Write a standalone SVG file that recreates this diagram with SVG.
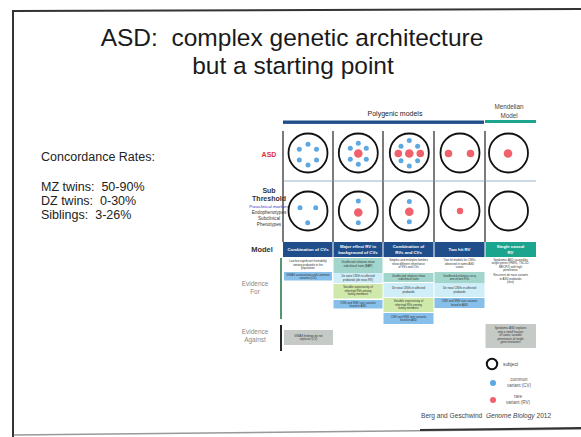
<svg xmlns="http://www.w3.org/2000/svg" width="581" height="437" viewBox="0 0 581 437">
<defs>
<style>
text{font-family:"Liberation Sans",Arial,sans-serif;white-space:pre}
.title{font-size:24.5px;fill:#1a1a1a;text-anchor:middle}
.conc{font-size:12.5px;fill:#222}
.subj{fill:none;stroke:#111;stroke-width:1.8}
.cv{fill:#5ea8e2}
.rv{fill:#f0616b}
.vline{stroke:#333;stroke-width:1.3}
.hdr{fill:#1f4e8a}
.hdrm{fill:#1ca58e}
.ht{font-size:4.3px;fill:#fff;font-weight:bold;text-anchor:middle}
.bt{font-size:2.9px;fill:#333;text-anchor:middle}
.lbl{font-size:6.5px;fill:#888;text-anchor:middle}
.blue{fill:#86bfea}
.teal{fill:#a2d6cd}
.cyan{fill:#cfeef8}
.green{fill:#cfe9aa}
.gray{fill:#c6cac7}
</style>
</defs>
<rect width="581" height="437" fill="#fff"/>
<g id="frame" fill="none">
<path d="M13,437 L13,11 L581,9" stroke="#333" stroke-width="2"/>
<path d="M13,435 L300,432 L581,429" stroke="#555" stroke-width="1.6" opacity="0.6"/>
<path d="M420,430 L581,428" stroke="#333" stroke-width="2"/>
</g>
<g id="title">
<text class="title" x="292" y="46" xml:space="preserve">ASD:  complex genetic architecture</text>
<text class="title" x="293" y="74">but a starting point</text>
</g>
<g id="concordance">
<text class="conc" x="41" y="161" font-size="13px">Concordance Rates:</text>
<text class="conc" x="41" y="191" xml:space="preserve">MZ twins:  50-90%</text>
<text class="conc" x="41" y="205" xml:space="preserve">DZ twins:  0-30%</text>
<text class="conc" x="41" y="219" xml:space="preserve">Siblings:  3-26%</text>
</g>
<g id="model-headers">
<text x="395" y="116" font-size="7" fill="#222" text-anchor="middle">Polygenic models</text>
<text x="509" y="109" font-size="6.3" fill="#444" text-anchor="middle">Mendelian</text>
<text x="509" y="118" font-size="6.3" fill="#444" text-anchor="middle">Model</text>
<rect x="283" y="120.5" width="201" height="3.4" fill="#1f4e8a"/>
<rect x="485" y="120" width="51" height="3" fill="#1ca58e"/>
</g>
<g id="grid">
<line class="vline" x1="283" y1="131" x2="283" y2="242"/>
<line class="vline" x1="333" y1="131" x2="333" y2="242"/>
<line class="vline" x1="383" y1="131" x2="383" y2="242"/>
<line class="vline" x1="434" y1="131" x2="434" y2="242"/>
<line class="vline" x1="485" y1="131" x2="485" y2="242"/>
<line x1="283" y1="181" x2="536" y2="181" stroke="#7d9db6" stroke-width="0.8"/>
</g>
<g id="row-labels">
<text x="269" y="157" font-size="7" font-weight="bold" fill="#d9303a" text-anchor="middle">ASD</text>
<text x="269" y="193" font-size="7" font-weight="bold" fill="#333" text-anchor="middle">Sub</text>
<text x="269" y="201" font-size="7" font-weight="bold" fill="#333" text-anchor="middle">Threshold</text>
<text x="269" y="208" font-size="4.4" fill="#3a3ac8" text-anchor="middle">Paraclinical markers</text>
<text x="269" y="214" font-size="4.6" fill="#333" text-anchor="middle">Endophenotypes</text>
<text x="269" y="220" font-size="4.6" fill="#333" text-anchor="middle">Subclinical</text>
<text x="269" y="226" font-size="4.6" fill="#333" text-anchor="middle">Phenotypes</text>
<text x="262" y="252" font-size="7.5" font-weight="bold" fill="#333" text-anchor="middle">Model</text>
</g>
<g id="col1-circles">
<circle class="subj" cx="308" cy="153" r="19.5"/>
<circle class="cv" cx="308" cy="144.3" r="2.5"/>
<circle class="cv" cx="299.3" cy="149.3" r="2.5"/>
<circle class="cv" cx="316.5" cy="149.3" r="2.5"/>
<circle class="cv" cx="299.3" cy="160" r="2.5"/>
<circle class="cv" cx="316.5" cy="160" r="2.5"/>
<circle class="cv" cx="308" cy="165" r="2.5"/>
<circle class="subj" cx="308" cy="211" r="19.5"/>
<circle class="cv" cx="300" cy="207.7" r="2.5"/>
<circle class="cv" cx="315.7" cy="207.7" r="2.5"/>
<circle class="cv" cx="307.7" cy="222.7" r="2.5"/>
</g>
<g id="col2-circles">
<circle class="subj" cx="358.3" cy="153" r="19.5"/>
<circle class="rv" cx="358.3" cy="153.5" r="4.3"/>
<circle class="cv" cx="358.3" cy="143.3" r="2.5"/>
<circle class="cv" cx="350.3" cy="148.3" r="2.5"/>
<circle class="cv" cx="366.3" cy="148.3" r="2.5"/>
<circle class="cv" cx="350.3" cy="159.3" r="2.5"/>
<circle class="cv" cx="366.3" cy="159.3" r="2.5"/>
<circle class="cv" cx="358.3" cy="164.3" r="2.5"/>
<circle class="subj" cx="358.3" cy="211" r="19.5"/>
<circle class="cv" cx="358.3" cy="201" r="2.5"/>
<circle class="rv" cx="358.3" cy="212.5" r="4.3"/>
<circle class="cv" cx="358.3" cy="222.7" r="2.5"/>
</g>
<g id="col3-circles">
<circle class="subj" cx="409.3" cy="153" r="19.5"/>
<circle class="rv" cx="398.3" cy="153.5" r="3.8"/>
<circle class="rv" cx="409.3" cy="153.5" r="4.3"/>
<circle class="rv" cx="420.3" cy="153.5" r="3.8"/>
<circle class="cv" cx="409.3" cy="140.5" r="2.5"/>
<circle class="cv" cx="401" cy="146.3" r="2.5"/>
<circle class="cv" cx="417.6" cy="146.3" r="2.5"/>
<circle class="cv" cx="401" cy="160.7" r="2.5"/>
<circle class="cv" cx="417.6" cy="160.7" r="2.5"/>
<circle class="cv" cx="409.3" cy="166" r="2.5"/>
<circle class="subj" cx="409.3" cy="211" r="19.5"/>
<circle class="cv" cx="409.3" cy="201.5" r="2.5"/>
<circle class="rv" cx="409.3" cy="211.7" r="4.3"/>
<circle class="cv" cx="409.3" cy="221.7" r="2.5"/>
</g>
<g id="col4-circles">
<circle class="subj" cx="460" cy="153" r="19.5"/>
<circle class="rv" cx="448.5" cy="153.5" r="3.8"/>
<circle class="rv" cx="470.5" cy="153.5" r="3.8"/>
<circle class="subj" cx="460" cy="211" r="19.5"/>
<circle class="rv" cx="460" cy="211" r="3.2"/>
</g>
<g id="col5-circles">
<circle class="subj" cx="508.5" cy="153" r="19.5"/>
<circle class="rv" cx="508" cy="153.5" r="4.3"/>
<circle class="subj" cx="508.5" cy="211" r="19.5"/>
</g>
<g id="model-row">
<rect class="hdr" x="283" y="242" width="49.5" height="15"/>
<rect class="hdr" x="333.5" y="242" width="49" height="15"/>
<rect class="hdr" x="383.5" y="242" width="50" height="15"/>
<rect class="hdr" x="434.5" y="242" width="50" height="15"/>
<rect class="hdrm" x="485.5" y="242" width="50.5" height="15"/>
<text class="ht" x="308" y="251">Combination of CVs</text>
<text class="ht" x="358" y="248">Major effect RV in</text>
<text class="ht" x="358" y="254">background of CVs</text>
<text class="ht" x="408.5" y="248">Combination of</text>
<text class="ht" x="408.5" y="254">RVs and CVs</text>
<text class="ht" x="459.5" y="251">Two hit RV</text>
<text class="ht" x="510.5" y="248">Single causal</text>
<text class="ht" x="510.5" y="254">RV</text>
</g>
<g id="evidence-labels">
<text class="lbl" x="255" y="286">Evidence</text>
<text class="lbl" x="255" y="294">For</text>
<line x1="281" y1="258" x2="281" y2="319" stroke="#2e7a4c" stroke-width="1.6"/>
<text class="lbl" x="255" y="334">Evidence</text>
<text class="lbl" x="255" y="342">Against</text>
<line x1="281" y1="325" x2="281" y2="351" stroke="#111" stroke-width="1.8"/>
</g>
<g id="evidence-col1">
<text class="bt" x="308" y="262">Low but significant heritability</text>
<text class="bt" x="308" y="265.5">among probands in the</text>
<text class="bt" x="308" y="269">population</text>
<rect class="blue" x="284" y="272" width="48" height="8.5"/>
<text class="bt" x="308" y="275.5">GWAS associations with common</text>
<text class="bt" x="308" y="279">variants (CV)</text>
</g>
<g id="evidence-col2">
<rect class="teal" x="333.5" y="258" width="49" height="15"/>
<text class="bt" x="358" y="263">Unaffected relatives show</text>
<text class="bt" x="358" y="266.5">subclinical traits (BAP)</text>
<rect class="cyan" x="333.5" y="273" width="49" height="10"/>
<text class="bt" x="358" y="277">De novo CNVs in affected</text>
<text class="bt" x="358" y="280.5">probands (de novo RV)</text>
<rect class="green" x="333.5" y="284" width="49" height="14.5"/>
<text class="bt" x="358" y="288">Variable expressivity of</text>
<text class="bt" x="358" y="291.5">inherited RVs among</text>
<text class="bt" x="358" y="295">family members</text>
<rect class="blue" x="333.5" y="300" width="49" height="8.5"/>
<text class="bt" x="358" y="303.5">CNV and SNV rare variants</text>
<text class="bt" x="358" y="307">found in ASD</text>
</g>
<g id="evidence-col3">
<text class="bt" x="408.5" y="261">Simplex and multiplex families</text>
<text class="bt" x="408.5" y="264.5">show different inheritance</text>
<text class="bt" x="408.5" y="268">of RVs and CVs</text>
<rect class="teal" x="383.5" y="273" width="50" height="9"/>
<text class="bt" x="408.5" y="276.5">Unaffected relatives show</text>
<text class="bt" x="408.5" y="280">subclinical traits</text>
<rect class="cyan" x="383.5" y="283" width="50" height="14"/>
<text class="bt" x="408.5" y="289">De novo CNVs in affected</text>
<text class="bt" x="408.5" y="292.5">probands</text>
<rect class="green" x="383.5" y="298" width="50" height="14"/>
<text class="bt" x="408.5" y="302">Variable expressivity of</text>
<text class="bt" x="408.5" y="305.5">inherited RVs among</text>
<text class="bt" x="408.5" y="309">family members</text>
<rect class="blue" x="383.5" y="313" width="50" height="11"/>
<text class="bt" x="408.5" y="317.5">CNV and SNV rare variants</text>
<text class="bt" x="408.5" y="321">found in ASD</text>
</g>
<g id="evidence-col4">
<text class="bt" x="459.5" y="261">Two hit models for CNVs</text>
<text class="bt" x="459.5" y="264.5">observed in some ASD</text>
<text class="bt" x="459.5" y="268">cases</text>
<rect class="teal" x="434.5" y="272" width="50" height="11"/>
<text class="bt" x="459.5" y="276.5">Unaffected relatives carry</text>
<text class="bt" x="459.5" y="280">one of two RVs</text>
<rect class="cyan" x="434.5" y="283" width="50" height="14"/>
<text class="bt" x="459.5" y="289">De novo CNVs in affected</text>
<text class="bt" x="459.5" y="292.5">probands</text>
<rect class="blue" x="434.5" y="298" width="50" height="10"/>
<text class="bt" x="459.5" y="302">CNV and SNV rare variants</text>
<text class="bt" x="459.5" y="305.5">found in ASD</text>
</g>
<g id="evidence-col5">
<text class="bt" x="510.5" y="260.5">Syndromic ASD caused by</text>
<text class="bt" x="510.5" y="264">single genes (FMR1, TSC1/2,</text>
<text class="bt" x="510.5" y="267.5">MECP2) with high</text>
<text class="bt" x="510.5" y="271">penetrance</text>
<text class="bt" x="510.5" y="276">Recurrent de novo variants</text>
<text class="bt" x="510.5" y="279.5">in ASD probands</text>
<text class="bt" x="510.5" y="283">(rare)</text>
</g>
<g id="against">
<rect class="gray" x="284" y="330" width="49" height="15"/>
<text class="bt" x="308.5" y="336.5">GWAS findings do not</text>
<text class="bt" x="308.5" y="340">replicate (CV)</text>
<rect class="gray" x="485.5" y="324" width="50.5" height="24"/>
<text class="bt" x="510.5" y="329">Syndromic ASD explains</text>
<text class="bt" x="510.5" y="332.5">only a small fraction</text>
<text class="bt" x="510.5" y="336">of cases; variable</text>
<text class="bt" x="510.5" y="339.5">penetrance of single</text>
<text class="bt" x="510.5" y="343">gene mutations</text>
</g>
<g id="legend">
<circle cx="492" cy="364" r="5.2" fill="none" stroke="#111" stroke-width="2"/>
<text x="503" y="366" font-size="4.8" fill="#444">subject</text>
<circle class="cv" cx="493" cy="383" r="3"/>
<text x="519" y="381" font-size="4.5" fill="#555" text-anchor="middle">common</text>
<text x="519" y="387" font-size="4.5" fill="#555" text-anchor="middle">variant (CV)</text>
<circle class="rv" cx="493" cy="400" r="3"/>
<text x="518" y="398" font-size="4.5" fill="#555" text-anchor="middle">rare</text>
<text x="518" y="404" font-size="4.5" fill="#555" text-anchor="middle">variant (RV)</text>
<text x="421" y="418" font-size="6.6" fill="#444" xml:space="preserve">Berg and Geschwind  <tspan font-style="italic">Genome Biology</tspan> 2012</text>
</g>
</svg>
